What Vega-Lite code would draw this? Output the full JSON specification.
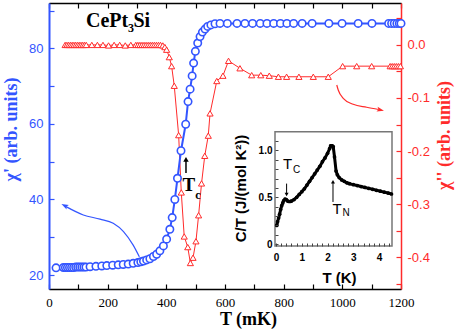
{
  "$schema": "https://vega.github.io/schema/vega-lite/v6.json",
  "width": 352,
  "height": 286,
  "autosize": {"type": "none"},
  "padding": {"left": 49, "top": 3, "right": 63, "bottom": 43},
  "background": "white",
  "config": {"view": {"stroke": null}, "axis": {"grid": false, "labelFlush": false, "labelOverlap": false}},
  "resolve": {"scale": {"x": "independent", "y": "independent"}, "axis": {"x": "independent", "y": "independent"}},
  "layer": [
    {
      "data": {"values": [
        {"T":55,"chi2":0},{"T":61,"chi2":0},{"T":67,"chi2":0},{"T":73,"chi2":0},{"T":79,"chi2":0},{"T":85,"chi2":0},{"T":91,"chi2":0},{"T":97,"chi2":0},{"T":103,"chi2":0},{"T":109,"chi2":0},{"T":115,"chi2":0},{"T":121,"chi2":0},{"T":127,"chi2":0},
        {"T":146,"chi2":0},{"T":165,"chi2":0},{"T":184,"chi2":0},{"T":203,"chi2":-0.001},{"T":222,"chi2":0},{"T":241,"chi2":0},{"T":260,"chi2":-0.001},{"T":279,"chi2":0},
        {"T":296,"chi2":0},{"T":303,"chi2":0},{"T":310,"chi2":0},{"T":317,"chi2":0},{"T":324,"chi2":0},{"T":331,"chi2":0},{"T":338,"chi2":0},{"T":345,"chi2":0},{"T":352,"chi2":0},{"T":359,"chi2":0},{"T":366,"chi2":0},{"T":373,"chi2":0},{"T":380,"chi2":0},{"T":388,"chi2":-0.001},
        {"T":395,"chi2":-0.004},{"T":401,"chi2":-0.009},{"T":410,"chi2":-0.023},{"T":418,"chi2":-0.04},{"T":427,"chi2":-0.077},{"T":442,"chi2":-0.17},{"T":451,"chi2":-0.278},{"T":461,"chi2":-0.361},{"T":473,"chi2":-0.381},{"T":482,"chi2":-0.411},
        {"T":491,"chi2":-0.401},{"T":501,"chi2":-0.37},{"T":510,"chi2":-0.321},{"T":520,"chi2":-0.261},{"T":531,"chi2":-0.209},{"T":543,"chi2":-0.171},{"T":549,"chi2":-0.129},{"T":572,"chi2":-0.068},{"T":593,"chi2":-0.058},{"T":612,"chi2":-0.03},
        {"T":651,"chi2":-0.044},{"T":691,"chi2":-0.057},{"T":722,"chi2":-0.057},{"T":751,"chi2":-0.058},{"T":782,"chi2":-0.06},{"T":810,"chi2":-0.06},{"T":852,"chi2":-0.06},{"T":901,"chi2":-0.06},{"T":952,"chi2":-0.06},
        {"T":1001,"chi2":-0.04},{"T":1049,"chi2":-0.04},{"T":1100,"chi2":-0.04},{"T":1163,"chi2":-0.04},{"T":1170,"chi2":-0.04},{"T":1177,"chi2":-0.04},{"T":1184,"chi2":-0.04},{"T":1191,"chi2":-0.04},{"T":1198,"chi2":-0.04}
      ]},
      "encoding": {
        "x": {"field": "T", "type": "quantitative", "scale": {"domain": [0, 1200], "nice": false, "zero": false},
          "axis": {"orient": "top", "values": [0,100,200,300,400,500,600,700,800,900,1000,1100,1200], "labels": false, "tickSize": -5, "tickColor": "black", "tickWidth": 1.2, "domainColor": "black", "domainWidth": 1.5, "title": null}},
        "y": {"field": "chi2", "type": "quantitative", "scale": {"domain": [-0.46, 0.079], "nice": false, "zero": false},
          "axis": {"orient": "right", "values": [-0.45,-0.4,-0.35,-0.3,-0.25,-0.2,-0.15,-0.1,-0.05,0,0.05],
            "labelExpr": "abs(datum.value*10 - round(datum.value*10)) < 0.001 ? replace(format(datum.value, '.1f'), '\u2212', '-') : ''",
            "tickSize": -5, "tickColor": "#ff2b2b", "tickWidth": 1.2, "domainColor": "#ff2b2b", "domainWidth": 1.5,
            "labelColor": "#ff2b2b", "labelFont": "Liberation Sans", "labelFontSize": 13, "labelPadding": 11,
            "title": "χ'' (arb. units)", "titleColor": "#ff2b2b", "titleFont": "Liberation Serif", "titleFontSize": 18, "titleFontWeight": "bold",
            "titleAngle": 270, "titleX": 43, "titleY": 132, "titleAlign": "center", "titleBaseline": "middle"}}
      },
      "layer": [
        {"mark": {"type": "line", "color": "#ff2b2b", "strokeWidth": 1}},
        {"mark": {"type": "point", "shape": "triangle-up", "filled": true, "fill": "white", "stroke": "#ff2b2b", "strokeWidth": 1, "size": 38, "opacity": 1}},
        {"data": {"values": [
          {"T":981,"chi2":-0.0755},{"T":986,"chi2":-0.0849},{"T":1003,"chi2":-0.1006},{"T":1037,"chi2":-0.1119},{"T":1083,"chi2":-0.1175},{"T":1124,"chi2":-0.1217}
        ]}, "mark": {"type": "line", "color": "#ff2b2b", "strokeWidth": 1.2, "interpolate": "monotone"}},
        {"data": {"values": [{"T":1128,"chi2":-0.1223}]}, "mark": {"type": "point", "shape": "M0,-1L0.6,0.7L0,0.35L-0.6,0.7Z", "filled": true, "color": "#ff2b2b", "size": 70, "angle": 103, "opacity": 1}}
      ]
    },
    {
      "data": {"values": [
        {"T":24,"chi1":21.9},{"T":49,"chi1":22.0},{"T":56,"chi1":22.0},{"T":63,"chi1":22.0},{"T":70,"chi1":22.0},{"T":77,"chi1":22.0},{"T":84,"chi1":22.0},{"T":91,"chi1":22.1},{"T":98,"chi1":22.1},{"T":105,"chi1":22.1},{"T":112,"chi1":22.1},{"T":119,"chi1":22.1},{"T":126,"chi1":22.1},
        {"T":140,"chi1":22.2},{"T":160,"chi1":22.3},{"T":180,"chi1":22.4},{"T":197,"chi1":22.5},{"T":217,"chi1":22.6},{"T":236,"chi1":22.7},{"T":253,"chi1":22.8},{"T":270,"chi1":22.9},{"T":287,"chi1":23.1},{"T":303,"chi1":23.3},
        {"T":313,"chi1":23.5},{"T":322,"chi1":23.7},{"T":333,"chi1":24.0},{"T":344,"chi1":24.3},{"T":356,"chi1":24.9},{"T":367,"chi1":25.5},{"T":378,"chi1":26.4},{"T":390,"chi1":27.7},{"T":401,"chi1":29.5},{"T":412,"chi1":32.1},{"T":420,"chi1":35.2},
        {"T":429,"chi1":40.0},{"T":438,"chi1":45.6},{"T":450,"chi1":52.9},{"T":466,"chi1":59.9},{"T":474,"chi1":65.9},{"T":481,"chi1":69.2},{"T":488,"chi1":72.7},{"T":493,"chi1":76.1},{"T":499,"chi1":79.2},{"T":507,"chi1":81.4},
        {"T":515,"chi1":83.1},{"T":523,"chi1":84.3},{"T":532,"chi1":85.1},{"T":541,"chi1":85.8},{"T":552,"chi1":86.2},{"T":566,"chi1":86.5},{"T":583,"chi1":86.6},{"T":608,"chi1":86.6},{"T":641,"chi1":86.6},{"T":668,"chi1":86.6},
        {"T":694,"chi1":86.6},{"T":720,"chi1":86.6},{"T":743,"chi1":86.6},{"T":766,"chi1":86.6},{"T":789,"chi1":86.6},{"T":811,"chi1":86.6},{"T":834,"chi1":86.6},{"T":863,"chi1":86.6},{"T":897,"chi1":86.6},{"T":954,"chi1":86.6},
        {"T":999,"chi1":86.6},{"T":1054,"chi1":86.6},{"T":1101,"chi1":86.6},{"T":1158,"chi1":86.6},{"T":1168,"chi1":86.6},{"T":1177,"chi1":86.6},{"T":1186,"chi1":86.6},{"T":1194,"chi1":86.6},{"T":1200,"chi1":86.6}
      ]},
      "encoding": {
        "x": {"field": "T", "type": "quantitative", "scale": {"domain": [0, 1200], "nice": false, "zero": false},
          "axis": {"orient": "bottom", "values": [0,100,200,300,400,500,600,700,800,900,1000,1100,1200], "format": "d",
            "labelExpr": "datum.value % 200 === 0 ? datum.label : ''",
            "tickSize": -5, "tickColor": "black", "tickWidth": 1.2, "domainColor": "black", "domainWidth": 1.5,
            "labelColor": "black", "labelFont": "Liberation Serif", "labelFontSize": 13, "labelPadding": 12,
            "title": "T (mK)", "titleColor": "black", "titleFont": "Liberation Serif", "titleFontSize": 18, "titleFontWeight": "bold",
            "titleX": 199, "titleY": 35, "titleAlign": "center", "titleBaseline": "alphabetic"}},
        "y": {"field": "chi1", "type": "quantitative", "scale": {"domain": [16.3, 92], "nice": false, "zero": false},
          "axis": {"orient": "left", "values": [20,30,40,50,60,70,80,90],
            "labelExpr": "datum.value % 20 === 0 ? datum.label : ''",
            "tickSize": -5, "tickColor": "#3355ff", "tickWidth": 1.2, "domainColor": "#3355ff", "domainWidth": 2,
            "labelColor": "#3355ff", "labelFont": "Liberation Sans", "labelFontSize": 13, "labelPadding": 11,
            "title": "χ' (arb. units)", "titleColor": "#3355ff", "titleFont": "Liberation Serif", "titleFontSize": 18, "titleFontWeight": "bold",
            "titleAngle": 270, "titleX": -38, "titleY": 126, "titleAlign": "center", "titleBaseline": "middle"}}
      },
      "layer": [
        {"mark": {"type": "line", "color": "#3355ff", "strokeWidth": 2}},
        {"mark": {"type": "point", "shape": "circle", "filled": true, "fill": "white", "stroke": "#3355ff", "strokeWidth": 1.6, "size": 55, "opacity": 1}},
        {"data": {"values": [
          {"T":58,"chi1":38.1},{"T":117,"chi1":35.9},{"T":174,"chi1":34.8},{"T":219,"chi1":33.7},{"T":254,"chi1":31.5},{"T":287,"chi1":27.9},{"T":308,"chi1":24.8}
        ]}, "mark": {"type": "line", "color": "#3355ff", "strokeWidth": 1.2, "interpolate": "monotone"}},
        {"data": {"values": [{"T":55,"chi1":38.3}]}, "mark": {"type": "point", "shape": "M0,-1L0.6,0.7L0,0.35L-0.6,0.7Z", "filled": true, "color": "#3355ff", "size": 70, "angle": 297, "opacity": 1}},
        {"data": {"values": [{"T":467,"chi1":47.0,"chi1b":50.5}]}, "mark": {"type": "rule", "color": "black", "strokeWidth": 1.5}, "encoding": {"y2": {"field": "chi1b"}}},
        {"data": {"values": [{"T":467,"chi1":50.6}]}, "mark": {"type": "point", "shape": "triangle-up", "filled": true, "color": "black", "size": 30, "opacity": 1}},
        {"data": {"values": [{"T":477,"chi1":43.7,"label":"T"}]}, "mark": {"type": "text", "font": "Liberation Serif", "fontWeight": "bold", "fontSize": 19, "color": "black", "align": "center", "baseline": "middle"}, "encoding": {"text": {"field": "label"}}},
        {"data": {"values": [{"T":508,"chi1":41.3,"label":"c"}]}, "mark": {"type": "text", "font": "Liberation Serif", "fontWeight": "bold", "fontSize": 12, "color": "black", "align": "center", "baseline": "middle"}, "encoding": {"text": {"field": "label"}}},
        {"data": {"values": [{"T":126,"chi1":85.7,"label":"CePt"}]}, "mark": {"type": "text", "font": "Liberation Serif", "fontWeight": "bold", "fontSize": 20, "color": "black", "align": "left", "baseline": "alphabetic"}, "encoding": {"text": {"field": "label"}}},
        {"data": {"values": [{"T":269,"chi1":84.4,"label":"3"}]}, "mark": {"type": "text", "font": "Liberation Serif", "fontWeight": "bold", "fontSize": 12, "color": "black", "align": "left", "baseline": "alphabetic"}, "encoding": {"text": {"field": "label"}}},
        {"data": {"values": [{"T":288,"chi1":85.7,"label":"Si"}]}, "mark": {"type": "text", "font": "Liberation Serif", "fontWeight": "bold", "fontSize": 20, "color": "black", "align": "left", "baseline": "alphabetic"}, "encoding": {"text": {"field": "label"}}}
      ]
    },
    {
      "data": {"values": [
        {"TK":0.03,"CT":0.2},{"TK":0.06,"CT":0.24},{"TK":0.1,"CT":0.28},{"TK":0.14,"CT":0.32},{"TK":0.18,"CT":0.37},{"TK":0.22,"CT":0.41},{"TK":0.26,"CT":0.44},{"TK":0.3,"CT":0.465},{"TK":0.35,"CT":0.48},{"TK":0.4,"CT":0.475},
        {"TK":0.45,"CT":0.46},{"TK":0.5,"CT":0.455},{"TK":0.55,"CT":0.455},{"TK":0.6,"CT":0.46},{"TK":0.7,"CT":0.475},{"TK":0.8,"CT":0.5},{"TK":0.9,"CT":0.53},{"TK":1.0,"CT":0.56},{"TK":1.1,"CT":0.59},{"TK":1.2,"CT":0.63},
        {"TK":1.3,"CT":0.67},{"TK":1.4,"CT":0.71},{"TK":1.5,"CT":0.75},{"TK":1.6,"CT":0.79},{"TK":1.7,"CT":0.83},{"TK":1.8,"CT":0.88},{"TK":1.9,"CT":0.92},{"TK":2.0,"CT":0.97},{"TK":2.08,"CT":1.02},{"TK":2.12,"CT":1.05},
        {"TK":2.18,"CT":1.05},{"TK":2.22,"CT":1.04},{"TK":2.27,"CT":0.93},{"TK":2.33,"CT":0.78},{"TK":2.38,"CT":0.74},{"TK":2.45,"CT":0.71},{"TK":2.55,"CT":0.685},{"TK":2.65,"CT":0.67},{"TK":2.75,"CT":0.655},{"TK":2.85,"CT":0.645},
        {"TK":3.0,"CT":0.635},{"TK":3.15,"CT":0.625},{"TK":3.3,"CT":0.615},{"TK":3.45,"CT":0.605},{"TK":3.6,"CT":0.595},{"TK":3.75,"CT":0.585},{"TK":3.9,"CT":0.575},{"TK":4.05,"CT":0.565},{"TK":4.2,"CT":0.555},{"TK":4.35,"CT":0.545},{"TK":4.48,"CT":0.535}
      ]},
      "encoding": {
        "x": {"field": "TK", "type": "quantitative", "scale": {"domain": [-0.04, 4.5], "range": [226, 343], "nice": false, "zero": false},
          "axis": {"orient": "bottom", "offset": -43, "zindex": 2, "domain": false,
            "values": [0,0.2,0.4,0.6,0.8,1,1.2,1.4,1.6,1.8,2,2.2,2.4,2.6,2.8,3,3.2,3.4,3.6,3.8,4,4.2,4.4],
            "labelExpr": "datum.value % 1 === 0 ? format(datum.value, 'd') : ''",
            "tickSize": -3, "tickColor": "#444", "tickWidth": 1,
            "labelColor": "black", "labelFont": "Liberation Sans", "labelFontWeight": "bold", "labelFontSize": 10, "labelPadding": 9,
            "title": "T (K)", "titleColor": "black", "titleFont": "Liberation Sans", "titleFontSize": 15, "titleFontWeight": "bold",
            "titleX": 290, "titleY": 36, "titleAlign": "center", "titleBaseline": "alphabetic"}},
        "y": {"field": "CT", "type": "quantitative", "scale": {"domain": [-0.02, 1.2], "range": [243, 128.7], "nice": false, "zero": false},
          "axis": {"orient": "left", "offset": -226, "zindex": 2, "domain": false,
            "values": [0,0.1,0.2,0.3,0.4,0.5,0.6,0.7,0.8,0.9,1,1.1],
            "labelExpr": "datum.value === 0 ? '0' : (abs(datum.value-0.5) < 0.001 ? '0.5' : (abs(datum.value-1) < 0.001 ? '1.0' : ''))",
            "tickSize": -3, "tickColor": "#444", "tickWidth": 1,
            "labelColor": "black", "labelFont": "Liberation Sans", "labelFontWeight": "bold", "labelFontSize": 10, "labelPadding": 6,
            "title": "C/T (J/(mol K²))", "titleColor": "black", "titleFont": "Liberation Sans", "titleFontSize": 15, "titleFontWeight": "bold",
            "titleAngle": 270, "titleX": -35, "titleY": 185, "titleAlign": "center", "titleBaseline": "middle"}}
      },
      "layer": [
        {"data": {"values": [{"TK": -0.04, "TK2": 4.5, "CT": -0.02, "CT2": 1.2}]},
          "mark": {"type": "rect", "fill": "white", "stroke": "#777777", "strokeWidth": 1.5},
          "encoding": {"x2": {"field": "TK2"}, "y2": {"field": "CT2"}}},
        {"mark": {"type": "line", "color": "black", "strokeWidth": 3}},
        {"mark": {"type": "point", "shape": "circle", "filled": true, "color": "black", "size": 14, "opacity": 1}},
        {"data": {"values": [{"TK":0.41,"CT":0.646,"CT2":0.54}]}, "mark": {"type": "rule", "color": "black", "strokeWidth": 1}, "encoding": {"y2": {"field": "CT2"}}},
        {"data": {"values": [{"TK":0.41,"CT":0.53}]}, "mark": {"type": "point", "shape": "triangle-down", "filled": true, "color": "black", "size": 16, "opacity": 1}},
        {"data": {"values": [{"TK":2.21,"CT":0.45,"CT2":0.66}]}, "mark": {"type": "rule", "color": "black", "strokeWidth": 1}, "encoding": {"y2": {"field": "CT2"}}},
        {"data": {"values": [{"TK":2.21,"CT":0.665}]}, "mark": {"type": "point", "shape": "triangle-up", "filled": true, "color": "black", "size": 16, "opacity": 1}},
        {"data": {"values": [{"TK":0.45,"CT":0.856,"label":"T"},{"TK":2.37,"CT":0.378,"label":"T"}]}, "mark": {"type": "text", "font": "Liberation Sans", "fontSize": 15, "color": "black", "align": "center", "baseline": "middle"}, "encoding": {"text": {"field": "label"}}},
        {"data": {"values": [{"TK":0.8,"CT":0.79,"label":"C"},{"TK":2.72,"CT":0.335,"label":"N"}]}, "mark": {"type": "text", "font": "Liberation Sans", "fontSize": 10, "color": "black", "align": "center", "baseline": "middle"}, "encoding": {"text": {"field": "label"}}}
      ]
    }
  ]
}
